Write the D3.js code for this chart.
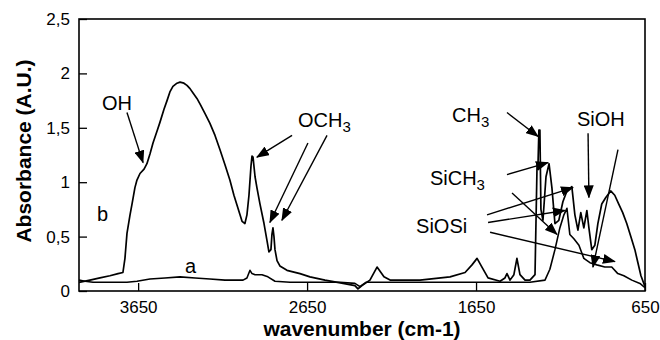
<!DOCTYPE html>
<html>
<head>
<meta charset="utf-8">
<script src="https://cdn.jsdelivr.net/npm/d3@7"></script>
<style>
	body {margin: 0; background: #fff;}
	svg {font-family: "Liberation Sans", Arial, sans-serif;}
</style>
</head>
<body>
<svg id="chart" width="660" height="340"></svg>
<script>
// spectrum b (hybrid film) - wavenumber (cm-1) / absorbance
var waveB = [4000,3935,3876,3817,3769,3740,3728,3716,3698,3686,3669,3657,3639,3615,3598,3580,3562,3538,3521,3497,
	3479,3462,3444,3420,3402,3379,3361,3343,3325,3302,3284,3254,3225,3195,3166,3136,3107,3083,3065,3047,
	3035,3018,3006,2994,2982,2976,2970,2958,2947,2929,2905,2887,2876,2864,2858,2852,2846,2840,2828,2811,
	2769,2692,2633,2544,2437,2367,2349,2325,2278,2236,2195,2159,1982,1804,1715,1674,1644,1615,1579,1508,
	1479,1467,1449,1426,1408,1390,1360,1331,1301,1289,1284,1278,1272,1266,1254,1236,1218,1201,1183,1160,
	1136,1112,1083,1065,1047,1030,1012,994,982,965,947,929,906,882,853,829,806,782,758,734,
	710,692,674,650];
var absB = [0.08,0.10,0.12,0.14,0.16,0.17,0.30,0.53,0.70,0.80,0.95,1.02,1.08,1.12,1.17,1.26,1.36,1.47,1.55,1.67,
	1.75,1.83,1.88,1.91,1.92,1.91,1.89,1.86,1.82,1.77,1.72,1.63,1.54,1.43,1.30,1.16,1.02,0.88,0.79,0.70,
	0.64,0.62,0.70,0.88,1.15,1.24,1.23,1.05,0.95,0.80,0.62,0.46,0.36,0.38,0.52,0.58,0.50,0.38,0.28,0.23,
	0.19,0.16,0.13,0.10,0.07,0.05,0.02,0.05,0.10,0.22,0.13,0.10,0.10,0.13,0.17,0.24,0.30,0.22,0.12,0.09,
	0.12,0.16,0.10,0.15,0.30,0.15,0.10,0.10,0.15,1.15,1.12,1.48,1.48,0.75,0.65,1.05,1.17,0.95,0.62,0.65,
	0.82,0.92,0.96,0.70,0.56,0.72,0.58,0.74,0.58,0.38,0.42,0.62,0.80,0.86,0.92,0.88,0.80,0.72,0.62,0.50,
	0.38,0.26,0.14,0.04];

// spectrum a
var waveA = [4000,3964,3917,3817,3716,3657,3580,3491,3402,3313,3225,3136,3029,3006,2988,2976,2958,2917,2882,2840,
	2751,2455,2367,2337,2302,2100,1745,1508,1331,1242,1213,1183,1154,1130,1112,1095,1071,1041,1012,976,
	935,888,847,811,775,728,680,650];
var absA = [0.10,0.09,0.08,0.08,0.08,0.09,0.11,0.12,0.13,0.12,0.11,0.10,0.10,0.12,0.19,0.16,0.15,0.15,0.13,0.09,
	0.08,0.08,0.07,0.04,0.08,0.08,0.08,0.08,0.08,0.10,0.20,0.38,0.58,0.70,0.76,0.52,0.48,0.42,0.30,0.26,
	0.24,0.22,0.22,0.16,0.14,0.10,0.07,0.03];

var xTicks = [3650, 2650, 1650, 650];
var yTicks = [0, 0.5, 1, 1.5, 2, 2.5];

// labels: text, subscript, wavenumber, absorbance (left/baseline)
var labels = [
	['OH', '', 3864, 1.66],
	['OCH', '3', 2704, 1.51],
	['CH', '3', 1792, 1.55],
	['SiOH', '', 1053, 1.52],
	['SiCH', '3', 1923, 0.97],
	['SiOSi', '', 2005, 0.53],
	['b', '', 3893, 0.64],
	['a', '', 3373, 0.165]
];

// arrows: from (w, A) to tip (w, A)
var arrows = [
	[3716, 1.64, 3621, 1.18],
	[2739, 1.43, 2947, 1.23],
	[2645, 1.36, 2870, 0.63],
	[2532, 1.43, 2799, 0.65],
	[1467, 1.64, 1283, 1.42],
	[1467, 1.07, 1224, 1.18],
	[1437, 0.90, 1171, 0.52],
	[1585, 0.70, 1076, 0.95],
	[1579, 0.63, 1124, 0.74],
	[1567, 0.54, 828, 0.27],
	[987, 1.45, 982, 0.86],
	[810, 1.30, 958, 0.22]
];

var svg = d3.select('#chart');
var mLeft = 79, mRight = 645, mTop = 19, mBottom = 291; // frame in pixels

var x = d3.scaleLinear().domain([4000, 650]).range([mLeft, mRight]);
var y = d3.scaleLinear().domain([0, 2.5]).range([mBottom, mTop]);

svg.append('defs').append('marker')
	.attr('id', 'head')
	.attr('markerUnits', 'userSpaceOnUse')
	.attr('markerWidth', 13).attr('markerHeight', 10)
	.attr('refX', 12).attr('refY', 5)
	.attr('orient', 'auto')
	.append('path')
	.attr('d', 'M0,0 L13,5 L0,10 Z')
	.attr('fill', '#000');

// axes, ticks inside the frame
var yAxis = svg.append('g')
	.attr('transform', 'translate(' + mLeft + ',0)')
	.call(d3.axisLeft(y).tickValues(yTicks).tickSize(-8).tickPadding(9)
		.tickFormat(function(d) {return String(d).replace('.', ',')}));
var xAxis = svg.append('g')
	.attr('transform', 'translate(0,' + mBottom + ')')
	.call(d3.axisBottom(x).tickValues(xTicks).tickSize(-8).tickPadding(10)
		.tickFormat(function(d) {return String(d)}));

[xAxis, yAxis].forEach(function(g) {
	g.select('.domain').remove();
	g.selectAll('line').attr('stroke', '#000').attr('stroke-width', 1.3);
	g.selectAll('text').attr('font-size', 17).attr('fill', '#000');
	g.attr('font-family', null);
});

var line = d3.line()
	.x(function(d) {return x(d[0])})
	.y(function(d) {return y(d[1])});

svg.append('path')
	.datum(d3.zip(waveA, absA))
	.attr('d', line)
	.attr('fill', 'none').attr('stroke', '#000').attr('stroke-width', 1.6)
	.attr('stroke-linejoin', 'round');
svg.append('path')
	.datum(d3.zip(waveB, absB))
	.attr('d', line)
	.attr('fill', 'none').attr('stroke', '#000').attr('stroke-width', 1.7)
	.attr('stroke-linejoin', 'round');

svg.append('rect')
	.attr('x', mLeft).attr('y', mTop)
	.attr('width', mRight - mLeft).attr('height', mBottom - mTop)
	.attr('fill', 'none').attr('stroke', '#000').attr('stroke-width', 1.6);

svg.selectAll('line.arrow').data(arrows).enter().append('line')
	.classed('arrow', true)
	.attr('x1', function(d) {return x(d[0])})
	.attr('y1', function(d) {return y(d[1])})
	.attr('x2', function(d) {return x(d[2])})
	.attr('y2', function(d) {return y(d[3])})
	.attr('stroke', '#000').attr('stroke-width', 1.4)
	.attr('marker-end', 'url(#head)');

var txt = svg.selectAll('text.label').data(labels).enter().append('text')
	.classed('label', true)
	.attr('x', function(d) {return x(d[2])})
	.attr('y', function(d) {return y(d[3])})
	.attr('font-size', 20);
txt.append('tspan').text(function(d) {return d[0]});
txt.filter(function(d) {return d[1]}).append('tspan')
	.attr('dy', 5).attr('font-size', 15)
	.text(function(d) {return d[1]});

// axis titles
svg.append('text')
	.attr('x', (mLeft + mRight) / 2).attr('y', 336)
	.attr('text-anchor', 'middle')
	.attr('font-size', 21).attr('font-weight', 'bold')
	.text('wavenumber (cm-1)');
svg.append('text')
	.attr('transform', 'translate(31,' + ((mTop + mBottom) / 2 - 4) + ') rotate(-90)')
	.attr('text-anchor', 'middle')
	.attr('font-size', 21).attr('font-weight', 'bold')
	.text('Absorbance (A.U.)');
</script>
</body>
</html>
